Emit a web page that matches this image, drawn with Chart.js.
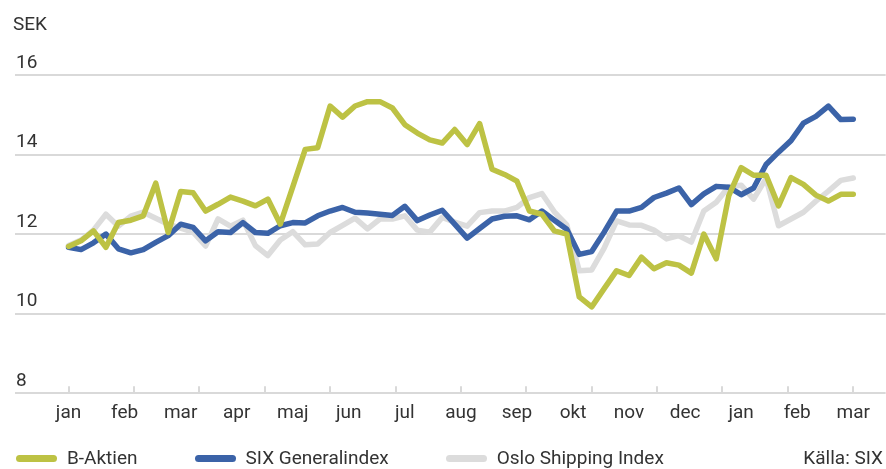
<!DOCTYPE html>
<html lang="sv">
<head>
<meta charset="utf-8">
<title>B-Aktien</title>
<script src="https://cdn.jsdelivr.net/npm/chart.js@4.4.1/dist/chart.umd.min.js"></script>
<style>
  html, body { margin: 0; padding: 0; background: #fff; }
  #wrap { position: relative; width: 886px; height: 469px; font-family: Roboto, 'Noto Sans', sans-serif; color: #333; }
  #legend { position: absolute; left: 16px; top: 447px; display: flex; align-items: center; font-size: 19px; line-height: 22px; }
  .item { display: flex; align-items: center; margin-right: 57px; }
  .swatch { width: 41px; height: 7px; border-radius: 4px; margin-right: 10px; }
  #source { position: absolute; right: 3px; top: 447px; font-size: 19px; line-height: 22px; }
</style>
</head>
<body>
<div id="wrap">
  <canvas id="chart" width="886" height="469"></canvas>
  <div id="legend"></div>
  <div id="source">Källa: SIX</div>
</div>
<script>
// Weekly closing prices (SEK)
const MONTHS = ['jan', 'feb', 'mar', 'apr', 'maj', 'jun', 'jul', 'aug', 'sep', 'okt', 'nov', 'dec', 'jan', 'feb', 'mar']

const B_AKTIEN = [
  11.69, 11.83, 12.08, 11.67, 12.29, 12.35, 12.46, 13.28, 12.04, 13.07,
  13.04, 12.58, 12.75, 12.93, 12.83, 12.71, 12.88, 12.25, 13.19, 14.13,
  14.17, 15.22, 14.94, 15.22, 15.33, 15.33, 15.17, 14.75, 14.54, 14.37,
  14.29, 14.63, 14.25, 14.78, 13.63, 13.50, 13.33, 12.58, 12.50, 12.08,
  12.00, 10.42, 10.17, 10.63, 11.08, 10.96, 11.42, 11.13, 11.28, 11.22,
  11.02, 12.00, 11.38, 12.96, 13.67, 13.48, 13.48, 12.71, 13.42, 13.25,
  12.98, 12.83, 13.00, 13.00,
]

const SIX_GENERAL = [
  11.67, 11.61, 11.78, 12.00, 11.63, 11.53, 11.61, 11.79, 11.96, 12.25,
  12.17, 11.83, 12.06, 12.04, 12.29, 12.04, 12.02, 12.21, 12.29, 12.28,
  12.46, 12.58, 12.67, 12.55, 12.53, 12.50, 12.47, 12.70, 12.34, 12.48,
  12.60, 12.25, 11.90, 12.14, 12.38, 12.45, 12.46, 12.36, 12.58, 12.35,
  12.12, 11.49, 11.56, 12.05, 12.58, 12.58, 12.67, 12.92, 13.03, 13.16,
  12.74, 13.01, 13.20, 13.18, 12.99, 13.16, 13.75, 14.06, 14.35, 14.79,
  14.96, 15.22, 14.88, 14.89,
]

const OSLO_SHIPPING = [
  11.71, 11.85, 12.10, 12.50, 12.20, 12.45, 12.55, 12.40, 12.25, 12.15,
  12.05, 11.70, 12.38, 12.20, 12.35, 11.71, 11.46, 11.85, 12.06, 11.73,
  11.75, 12.04, 12.22, 12.40, 12.13, 12.38, 12.38, 12.46, 12.10, 12.05,
  12.42, 12.30, 12.20, 12.54, 12.58, 12.58, 12.67, 12.92, 13.02, 12.56,
  12.23, 11.08, 11.10, 11.65, 12.33, 12.23, 12.22, 12.10, 11.88, 11.96,
  11.80, 12.58, 12.80, 13.19, 13.23, 12.88, 13.40, 12.21, 12.38, 12.55,
  12.83, 13.08, 13.35, 13.41,
]

const SERIES_NAMES = ['B-Aktien', 'SIX Generalindex', 'Oslo Shipping Index']
const SERIES_COLORS = ['#bdc244', '#3b63a8', '#dcdcdc']

const TEXT = '#333'
const GRID = '#d9d9d9'
const FONT = { family: 'Roboto, "Noto Sans", sans-serif', size: 19, weight: 'normal' }

// x runs over week index; months and tick marks are spread evenly over it
const weeks = B_AKTIEN.map((_, i) => i)
const last = weeks.length - 1
const monthPos = MONTHS.map((_, i) => i * last / (MONTHS.length - 1))
const markPos = Array.from({ length: 13 }, (_, i) => i * last / 12)
const xMin = -4.3
const xMax = last + 2.6

function line(label, data, color) {
  return {
    label,
    data,
    borderColor: color,
    backgroundColor: color,
    borderWidth: 5.5,
    borderJoinStyle: 'round',
    borderCapStyle: 'round',
    pointRadius: 0,
    tension: 0,
    fill: false,
  }
}

new Chart(document.getElementById('chart'), {
  type: 'line',
  data: {
    labels: weeks,
    datasets: [
      line(SERIES_NAMES[0], B_AKTIEN, SERIES_COLORS[0]),
      line(SERIES_NAMES[1], SIX_GENERAL, SERIES_COLORS[1]),
      line(SERIES_NAMES[2], OSLO_SHIPPING, SERIES_COLORS[2]),
    ],
  },
  options: {
    responsive: false,
    animation: false,
    layout: { padding: { left: 13, right: 0, top: 0, bottom: 21 } },
    plugins: {
      legend: { display: false },
      tooltip: { enabled: false },
      title: {
        display: true,
        text: 'SEK',
        align: 'start',
        color: TEXT,
        font: FONT,
        padding: { top: 14, bottom: 38.2 },
      },
    },
    scales: {
      x: {
        type: 'linear',
        min: xMin,
        max: xMax,
        weight: 1,
        grid: { display: false, drawTicks: false },
        border: { display: false },
        afterBuildTicks: s => { s.ticks = monthPos.map(value => ({ value })) },
        ticks: {
          autoSkip: false,
          maxRotation: 0,
          padding: 16,
          color: TEXT,
          font: FONT,
          callback: (v, i) => MONTHS[i],
        },
      },
      // tick marks only, pointing up from the baseline
      xt: {
        type: 'linear',
        position: 'bottom',
        min: xMin,
        max: xMax,
        weight: 0,
        afterBuildTicks: s => { s.ticks = markPos.map(value => ({ value })) },
        ticks: { display: false },
        grid: { drawOnChartArea: false, drawTicks: true, tickLength: -7, color: GRID, lineWidth: 2 },
        border: { display: false },
      },
      y: {
        min: 8,
        max: 16,
        grid: { color: GRID, lineWidth: 2, drawTicks: false },
        border: { display: false },
        ticks: { stepSize: 2, mirror: true, padding: 1, labelOffset: -12, color: TEXT, font: FONT },
      },
    },
  },
})

// legend row under the chart
const legendEl = document.getElementById('legend')
SERIES_NAMES.forEach((name, i) => {
  const item = document.createElement('span')
  item.className = 'item'
  const sw = document.createElement('span')
  sw.className = 'swatch'
  sw.style.background = SERIES_COLORS[i]
  item.appendChild(sw)
  item.appendChild(document.createTextNode(name))
  legendEl.appendChild(item)
})
</script>
</body>
</html>
